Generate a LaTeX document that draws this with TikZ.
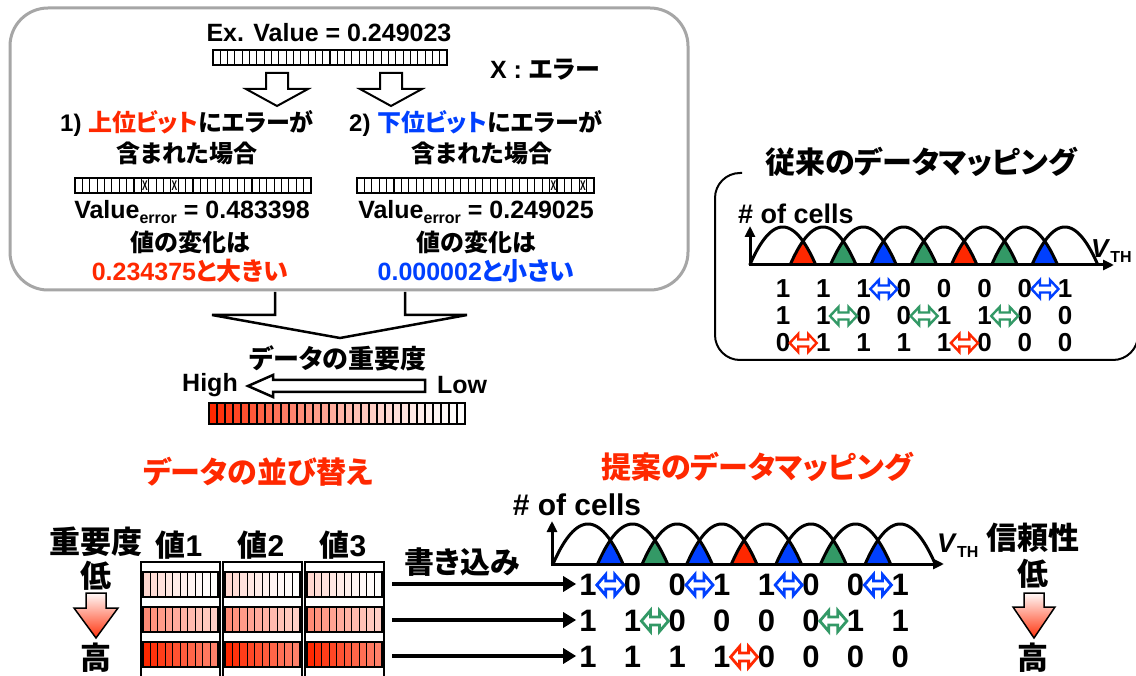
\documentclass[tikz,border=0pt]{standalone}
\usepackage{fontspec}
\setmainfont{Liberation Sans}
\newfontfamily\jpf{Noto Sans CJK JP}[RawFeature=+palt]
\usetikzlibrary{arrows.meta}
\definecolor{jred}{RGB}{255,40,0}
\definecolor{jblue}{RGB}{0,64,255}
\definecolor{jgreen}{RGB}{51,153,102}
\definecolor{boxgray}{RGB}{166,166,166}
\newcommand\J[1]{{\jpf\bfseries #1}}
\newcommand\fs[1]{\fontsize{#1}{#1}\selectfont\bfseries}
\newcommand\sub[1]{\raisebox{-5pt}{\fontsize{16}{16}\selectfont\bfseries #1}}
\newcommand\bitbar[6]{%
  \pgfmathsetmacro\bbcw{(#3-#1)/#5}%
  \foreach \k in {1,...,#5}{\draw[line width=#6, fill=white] ({#1+(\k-1)*\bbcw},#2) rectangle ({#1+\k*\bbcw},#4);}%
}
\newcommand\blkdown[7]{%
  \draw[#7] ({#1-#3},#2) -- ({#1+#3},#2) -- ({#1+#3},#4) -- ({#1+#5},#4) -- (#1,#6) -- ({#1-#5},#4) -- ({#1-#3},#4) -- cycle;}
\tikzset{
  lab/.style={inner sep=0pt, font=\fs{#1}},
  dblA/.pic={\draw[line width=2.4, fill=white, line join=miter] (-13.5,0) -- (-5,-9) -- (-5,-3.5) -- (5,-3.5) -- (5,-9) -- (13.5,0) -- (5,9) -- (5,3.5) -- (-5,3.5) -- (-5,9) -- cycle;},
  dblB/.pic={\draw[line width=2.8, fill=white, line join=miter] (-13.5,0) -- (-4.5,-10.5) -- (-4.5,-4) -- (4.5,-4) -- (4.5,-10.5) -- (13.5,0) -- (4.5,10.5) -- (4.5,4) -- (-4.5,4) -- (-4.5,10.5) -- cycle;},
  axis/.style={line width=3, -{Triangle[length=11pt,width=10pt]}},
  hump/.style={line width=3},
  wr/.style={line width=4, -{Triangle[length=13pt,width=15pt]}},
  gradarrow/.style={draw=black, line width=1.5, top color=jred!3, bottom color=jred!95},
  xmark/.style={inner sep=0pt, font=\fontsize{14}{14}\selectfont\bfseries},
}
\begin{document}
\begin{tikzpicture}[x=1pt,y=-1pt]
\useasboundingbox (0,0) rectangle (1136,676);
\fill[white] (0,0) rectangle (1136,676);

% ---------------- top box ----------------
\draw[boxgray, line width=3, rounded corners=38] (10,8) rectangle (688,290);
\node[lab=25] (ex) at (329,33) {Ex. Value = 0.249023};
\bitbar{213}{50}{447}{65}{32}{1.1}
\blkdown{277}{73}{11}{89}{31}{106}{line width=2, fill=white}
\blkdown{391}{73}{11}{89}{31}{106}{line width=2, fill=white}
\node[lab=25] (xl) at (545,70) {X : \J{エラー}};
\node[lab=24] (c1a) at (187,123) {1) \J{\textcolor{jred}{上位ビット}にエラーが}};
\node[lab=24] (c1b) at (187,153) {\J{含まれた場合}};
\node[lab=24] (c2a) at (476,123) {2) \J{\textcolor{jblue}{下位ビット}にエラーが}};
\node[lab=24] (c2b) at (482,153) {\J{含まれた場合}};
\bitbar{75}{178}{311}{193}{32}{1.1}
\bitbar{357}{178}{594}{193}{32}{1.1}
\foreach \xx/\nm in {144.9/e1, 174.4/e2, 553.4/e3, 583.0/e4}{\node[xmark] (\nm) at (\xx,185.5) {\scalebox{0.6}[1]{X}};}
\node[lab=25] (v1) at (192,212) {Value\sub{error} = 0.483398};
\node[lab=25] (v2) at (476,212) {Value\sub{error} = 0.249025};
\node[lab=24] (d1) at (190,242) {\J{値の変化は}};
\node[lab=24] (d2) at (476,242) {\J{値の変化は}};
\node[lab=25, text=jred] (r1) at (190,271) {0.234375\J{と大きい}};
\node[lab=25, text=jblue] (r2) at (476,271) {0.000002\J{と小さい}};

% big hollow arrow
\fill[white] (275,292) -- (275,315) -- (212,315) -- (340,338) -- (467,315) -- (405,315) -- (405,292) -- cycle;
\draw[line width=2.5] (275,292) -- (275,315) -- (212,315) -- (340,338) -- (467,315) -- (405,315) -- (405,292);

\node[lab=26] (imp) at (338,358) {\J{データの重要度}};
\draw[line width=2.5, fill=white] (425,380) -- (273,380) -- (273,375) -- (248,386) -- (273,397) -- (273,392) -- (425,392) -- cycle;
\node[lab=25] (hi) at (210,385) {High};
\node[lab=25] (lo) at (462,385) {Low};
\foreach \k in {0,...,31}{
  \pgfmathsetmacro\pp{100*(1-\k/32)^1.5}
  \draw[line width=1.5, fill=jred!\pp!white] ({209+\k*8},403) rectangle ({217+\k*8},424);
}

% ---------------- conventional mapping ----------------
\node[lab=30] (conv) at (921,162) {\J{従来のデータマッピング}};
\draw[line width=2, rounded corners=25] (742,173) -- (715,173) -- (715,360) -- (1138,360) -- (1138,320);
\foreach \c [count=\i from 0] in {jred,jgreen,jblue,jgreen,jred,jgreen,jblue}{
  \fill[\c] plot[domain=0:0.195, samples=8] ({749.8+(\i+1)*40.3+66*\x},{265-38*4*\x*(1-\x)})
     -- plot[domain=0.805:1, samples=8] ({749.8+\i*40.3+66*\x},{265-38*4*\x*(1-\x)}) -- cycle;
}
\foreach \i in {0,...,7}{
  \draw[hump] plot[domain=0:1, samples=40, smooth] ({749.8+\i*40.3+66*\x},{265-38*4*\x*(1-\x)});
}
\coordinate (o1) at (750,265);
\coordinate (y1) at (750,226);
\coordinate (x1) at (1114,265);
\draw[axis] ([yshift=1.5pt]o1) -- (y1);
\draw[axis] ([xshift=-1.5pt]o1) -- (x1);
\node[lab=27] (cells1) at (796,214) {\# of cells};
\node[lab=26, anchor=west] (vth1) at (1091,251) {\textit{V}\sub{TH}};
\foreach \r/\digs in {1/{1,1,1,0,0,0,0,1}, 2/{1,1,0,0,1,1,0,0}, 3/{0,1,1,1,1,0,0,0}}{
  \foreach \d [count=\k from 0] in \digs{
    \node[lab=26] (t\r-\k) at ({783+\k*40.3},{289+(\r-1)*27}) {\d};
  }
}
\foreach \k in {2,6}{\pic[color=jblue] at ({803.2+\k*40.3},289) {dblA};}
\foreach \k in {1,3,5}{\pic[color=jgreen] at ({803.2+\k*40.3},316) {dblA};}
\foreach \k in {0,4}{\pic[color=jred] at ({803.2+\k*40.3},343) {dblA};}

% ---------------- bottom left ----------------
\node[lab=30, text=jred] (sort) at (258,472) {\J{データの並び替え}};
\node[lab=31] (jyo) at (96,542) {\J{重要度}};
\node[lab=31] (low1) at (96,576) {\J{低}};
\blkdown{96}{593}{10}{608}{22}{638}{gradarrow}
\node[lab=31] (high1) at (96,658) {\J{高}};
\foreach \c in {1,2,3}{
  \node[lab=30] (val\c) at ({179+(\c-1)*82},545) {\J{値}\c};
  \draw[line width=1.5] ({141+(\c-1)*82},690) -- ({141+(\c-1)*82},562) -- ({220+(\c-1)*82},562) -- ({220+(\c-1)*82},690);
}
\foreach \r in {1,2,3}{
  \foreach \c in {1,2,3}{
    \foreach \j in {0,...,9}{
      \pgfmathsetmacro\pp{100*(1-((3-\r)*10+\j)/30)^1.5}
      \fill[jred!\pp!white] ({143+(\c-1)*82+\j*7.5},{572+(\r-1)*35}) rectangle ({150.5+(\c-1)*82+\j*7.5},{597+(\r-1)*35});
      \draw[line width=1.3] ({150.5+(\c-1)*82+\j*7.5},{572+(\r-1)*35}) -- ({150.5+(\c-1)*82+\j*7.5},{597+(\r-1)*35});
    }
    \draw[line width=1.5] ({143+(\c-1)*82},{572+(\r-1)*35}) rectangle ({218+(\c-1)*82},{597+(\r-1)*35});
  }
}
\node[lab=30] (write) at (462,562) {\J{書き込み}};

% ---------------- proposed mapping ----------------
\node[lab=30, text=jred] (prop) at (757,467) {\J{提案のデータマッピング}};
\foreach \c [count=\i from 0] in {jblue,jgreen,jblue,jred,jblue,jgreen,jblue}{
  \fill[\c] plot[domain=0:0.1814, samples=8] ({553+(\i+1)*44.6+70*\x},{564-40*4*\x*(1-\x)})
     -- plot[domain=0.8186:1, samples=8] ({553+\i*44.6+70*\x},{564-40*4*\x*(1-\x)}) -- cycle;
}
\foreach \i in {0,...,7}{
  \draw[hump] plot[domain=0:1, samples=40, smooth] ({553+\i*44.6+70*\x},{564-40*4*\x*(1-\x)});
}
\coordinate (o2) at (552,564);
\coordinate (y2) at (552,521);
\coordinate (x2) at (944,564);
\draw[axis] ([yshift=1.5pt]o2) -- (y2);
\draw[axis] ([xshift=-1.5pt]o2) -- (x2);
\node[lab=30] (cells2) at (577,505) {\# of cells};
\node[lab=27, anchor=west] (vth2) at (937,546) {\textit{V}\sub{TH}};
\foreach \r/\digs in {1/{1,0,0,1,1,0,0,1}, 2/{1,1,0,0,0,0,1,1}, 3/{1,1,1,1,0,0,0,0}}{
  \foreach \d [count=\k from 0] in \digs{
    \node[lab=31] (b\r-\k) at ({588+\k*44.6},{585+(\r-1)*36}) {\d};
  }
}
\foreach \k in {0,2,4,6}{\pic[color=jblue] at ({610.3+\k*44.6},585) {dblB};}
\foreach \k in {1,5}{\pic[color=jgreen] at ({610.3+\k*44.6},621) {dblB};}
\foreach \k in {3}{\pic[color=jred] at ({610.3+\k*44.6},657) {dblB};}

\foreach \r in {1,2,3}{
  \coordinate (w\r) at (392,{584+(\r-1)*36});
  \draw[wr, shorten >=3pt] (w\r) -- (w\r -| b\r-0.west);
}

\node[lab=31] (rel) at (1033,538) {\J{信頼性}};
\node[lab=31] (low2) at (1033,574) {\J{低}};
\blkdown{1034}{593}{10}{607}{21}{638}{gradarrow}
\node[lab=31] (high2) at (1033,658) {\J{高}};
\end{tikzpicture}
\end{document}
